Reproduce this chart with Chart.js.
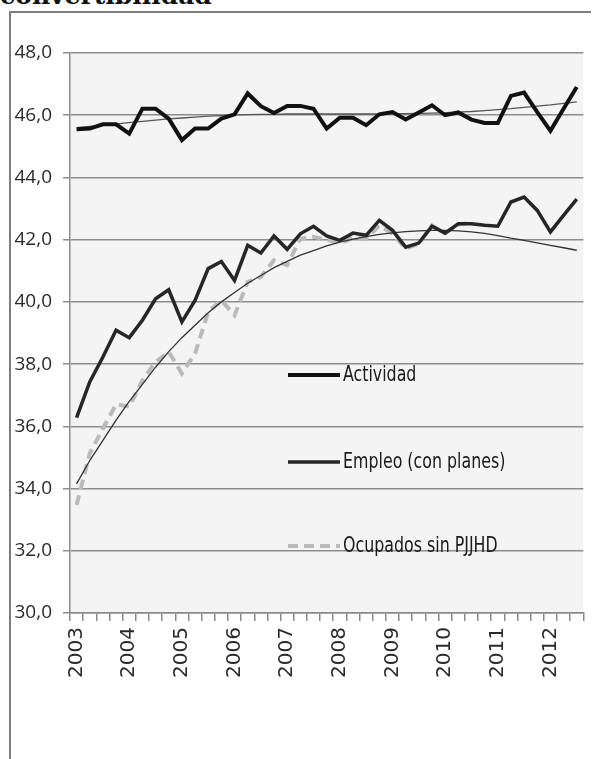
<!DOCTYPE html>
<html>
<head>
<meta charset="utf-8">
<script src="https://cdn.jsdelivr.net/npm/chart.js@4"></script>
<style>
  html, body { margin: 0; padding: 0; background: #fff; }
  body { width: 607px; height: 759px; position: relative; overflow: hidden; }
  #frame { position: absolute; left: 9px; top: 11px; width: 580px; height: 800px;
           border-left: 2px solid #7d7d7d; border-top: 2px solid #7d7d7d; }
  #title { position: absolute; left: 0; top: -16px; font: bold 25px "DejaVu Serif", serif;
           line-height: 24px; color: #111; white-space: nowrap; }
  #c { position: absolute; left: 0; top: 0; }
</style>
</head>
<body>
<div id="frame"></div>
<div id="title">convertibilidad</div>
<canvas id="c" width="607" height="759"></canvas>
<script>
// trimestres 2003 T1 .. 2012 T3
const quarters = [];
for (let y = 2003; y <= 2012; y++) {
  for (let q = 1; q <= 4; q++) {
    if (y === 2012 && q > 3) break;
    quarters.push(y + ' T' + q);
  }
}
const years = ['2003', '2004', '2005', '2006', '2007', '2008', '2009', '2010', '2011', '2012'];

const actividad = [45.55, 45.57, 45.71, 45.71, 45.41, 46.21, 46.21, 45.89, 45.2, 45.57,
  45.57, 45.89, 46.03, 46.7, 46.29, 46.07, 46.3, 46.3, 46.21, 45.57,
  45.92, 45.92, 45.68, 46.03, 46.1, 45.86, 46.09, 46.32, 46.0, 46.09,
  45.86, 45.75, 45.75, 46.62, 46.73, 46.1, 45.5, 46.21, 46.91];

const empleo = [36.28, 37.43, 38.23, 39.09, 38.85, 39.41, 40.1, 40.39, 39.36, 40.05,
  41.07, 41.3, 40.69, 41.82, 41.57, 42.12, 41.69, 42.19, 42.43, 42.12,
  41.98, 42.21, 42.14, 42.62, 42.3, 41.76, 41.89, 42.43, 42.21, 42.51,
  42.51, 42.46, 42.43, 43.21, 43.37, 42.94, 42.25, 42.78, 43.3];

const ocupadosSinPJJHD = [33.47, 35.13, 35.93, 36.71, 36.63, 37.48, 38.07, 38.39, 37.7, 38.34,
  39.68, 40.05, 39.57, 40.64, 40.8, 41.34, 41.18, 42.03, 42.09, 42.0,
  41.89, 42.05, 42.03, 42.46, 42.19, 41.71, 41.87, 42.46, 42.21, 42.49,
  42.54];

// lineas de tendencia
const tendActividad = [45.6, 45.64, 45.68, 45.72, 45.76, 45.8, 45.84, 45.88, 45.91, 45.94,
  45.97, 45.99, 46.01, 46.02, 46.03, 46.03, 46.04, 46.04, 46.04, 46.04,
  46.04, 46.04, 46.04, 46.04, 46.05, 46.05, 46.06, 46.07, 46.08, 46.1,
  46.12, 46.15, 46.18, 46.21, 46.25, 46.29, 46.33, 46.38, 46.43];

const tendEmpleo = [34.15, 34.9, 35.55, 36.2, 36.8, 37.35, 37.9, 38.4, 38.85, 39.25,
  39.65, 40.0, 40.3, 40.6, 40.85, 41.1, 41.3, 41.5, 41.65, 41.8,
  41.92, 42.02, 42.1, 42.17, 42.22, 42.26, 42.28, 42.3, 42.3, 42.28,
  42.25, 42.2, 42.13, 42.05, 41.98, 41.9, 41.82, 41.74, 41.66];

const plotBg = {
  id: 'plotBg',
  beforeDraw(chart) {
    const { ctx, chartArea: a } = chart;
    ctx.save();
    ctx.fillStyle = '#f4f4f4';
    ctx.fillRect(a.left, a.top, a.right - a.left, a.bottom - a.top);
    ctx.restore();
  }
};

// leyenda dentro del area del grafico
const inlineLegend = {
  id: 'inlineLegend',
  afterDatasetsDraw(chart) {
    const { ctx, chartArea: a } = chart;
    const items = [
      { ds: 0, y: 375 },
      { ds: 1, y: 462 },
      { ds: 2, y: 546 }
    ];
    const x0 = a.left + 218, x1 = a.left + 270;
    ctx.save();
    items.forEach(it => {
      const d = chart.data.datasets[it.ds];
      ctx.strokeStyle = d.borderColor;
      ctx.lineWidth = d.borderWidth;
      ctx.setLineDash(d.borderDash || []);
      ctx.beginPath();
      ctx.moveTo(x0, it.y);
      ctx.lineTo(x1, it.y);
      ctx.stroke();
      ctx.setLineDash([]);
      ctx.fillStyle = '#1a1a1a';
      ctx.font = '22px "DejaVu Sans Condensed", "DejaVu Sans", sans-serif';
      ctx.textBaseline = 'middle';
      // texto angosto como en el original
      const w = ctx.measureText(d.label).width * 0.8;
      ctx.fillText(d.label, x1 + 3, it.y, w);
    });
    ctx.restore();
  }
};

new Chart(document.getElementById('c'), {
  type: 'line',
  data: {
    labels: quarters,
    datasets: [
      { label: 'Actividad', data: actividad, borderColor: '#111', borderWidth: 4, pointRadius: 0, order: 0 },
      { label: 'Empleo (con planes)', data: empleo, borderColor: '#262626', borderWidth: 3.5, pointRadius: 0, order: 1 },
      { label: 'Ocupados sin PJJHD', data: ocupadosSinPJJHD, borderColor: '#bababa', borderWidth: 4, borderDash: [10, 6], pointRadius: 0, order: 3 },
      { label: 'tend1', data: tendActividad, borderColor: '#555', borderWidth: 1.3, pointRadius: 0, order: 2 },
      { label: 'tend2', data: tendEmpleo, borderColor: '#333', borderWidth: 1.3, pointRadius: 0, order: 2 }
    ]
  },
  options: {
    responsive: false,
    animation: false,
    devicePixelRatio: 1,
    layout: { padding: { left: 0, top: 53, right: 20, bottom: 0 } },
    plugins: { legend: { display: false }, tooltip: { enabled: false } },
    scales: {
      x: {
        offset: true,
        grid: { display: true, offset: true, drawOnChartArea: false, tickLength: 8, color: '#8a8a8a', lineWidth: 1.5 },
        border: { display: true, color: '#8a8a8a', width: 1.5 },
        ticks: {
          autoSkip: false, minRotation: 90, maxRotation: 90, padding: 6, color: '#2a2a2a',
          font: { family: 'DejaVu Sans', size: 20 },
          callback: (v, i) => (i % 4 === 0 ? years[i / 4] : '')
        },
        afterFit: s => { s.height = 146; }
      },
      y: {
        min: 30, max: 48,
        grid: { color: '#8c8c8c', lineWidth: 1.5, tickLength: 7 },
        border: { color: '#8c8c8c', width: 1.5 },
        ticks: {
          stepSize: 2, padding: 11, color: '#2a2a2a',
          font: { family: 'Open Sans', size: 19 },
          callback: v => v.toFixed(1).replace('.', ',')
        },
        afterFit: s => { s.width = 70; }
      }
    }
  },
  plugins: [plotBg, inlineLegend]
});
</script>
</body>
</html>
